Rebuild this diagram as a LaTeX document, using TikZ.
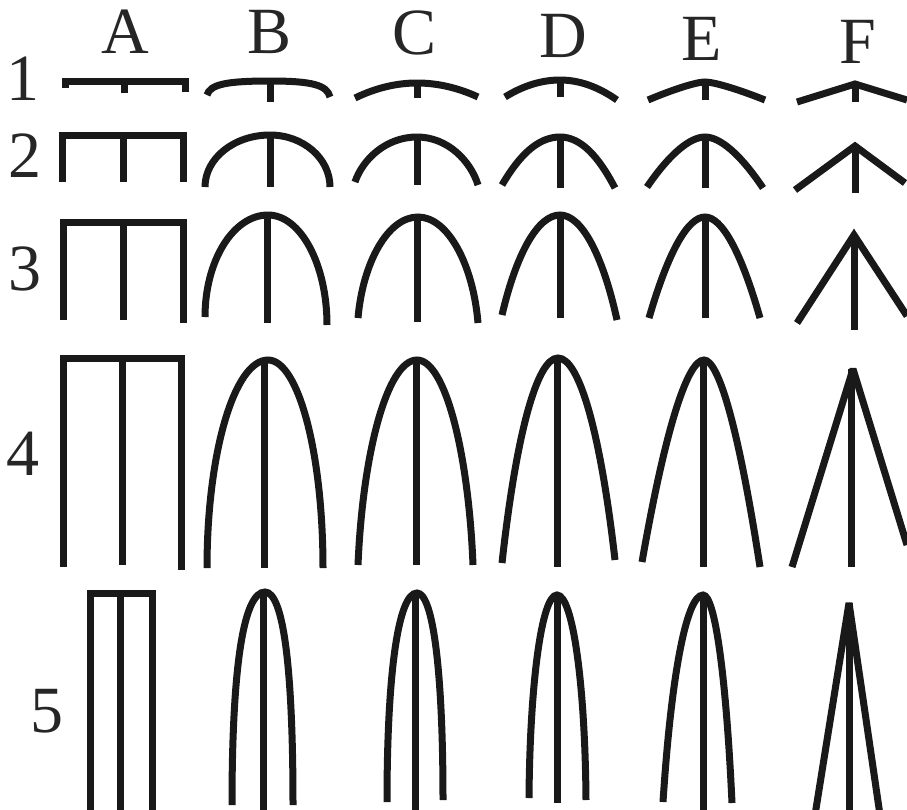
\documentclass[tikz,border=0pt]{standalone}
\usepackage{fontspec}
\setmainfont{Liberation Serif}
\newcommand{\arch}[9]{%
 \draw[ln] (#1,#2) .. controls ({#1+#7*(#3-#1)},{#2-#8*(#2-#4)}) and ({#3-#9*(#3-#1)},#4) .. (#3,#4)
   .. controls ({#3+#9*(#5-#3)},#4) and ({#5-#7*(#5-#3)},{#6-#8*(#6-#4)}) .. (#5,#6);}
\begin{document}
\begin{tikzpicture}[x=1pt,y=-1pt,
  ln/.style={line width=7pt,color=black!90,line cap=butt,line join=miter},
  lbl/.style={font=\fontsize{66}{66}\selectfont,inner sep=0pt,anchor=base,text=black!85}]
\useasboundingbox (0,0) rectangle (907,809);
\fill[white] (0,0) rectangle (907,809);
\clip (0,0) rectangle (907,809);
% labels
\node[lbl] (lA) at (125,53) {A};
\node[lbl] (lB) at (270,53) {B};
\node[lbl] (lC) at (415,54) {C};
\node[lbl] (lD) at (563,57) {D};
\node[lbl] (lE) at (702,60) {E};
\node[lbl] (lF) at (858,63) {F};
\node[lbl] (l1) at (23,100) {1};
\node[lbl] (l2) at (25,177) {2};
\node[lbl] (l3) at (25,290) {3};
\node[lbl] (l4) at (23,475) {4};
\node[lbl] (l5) at (47,732) {5};
% ---- row 1
\draw[ln] (65,88) -- (65,81) -- (185,81) -- (185,92);
\draw[ln] (124,81) -- (124,93);
\arch{207}{95}{270}{81}{330}{97}{0.05}{0.75}{0.7}
\draw[ln] (270,81) -- (270,102);
\arch{355}{98}{417}{83}{478}{97}{0.333}{0.667}{0.333}
\draw[ln] (417,83) -- (417,98);
\arch{505}{97}{560}{80}{617}{100}{0.333}{0.667}{0.333}
\draw[ln] (560,80) -- (560,97);
\arch{648}{100}{705}{82}{765}{100}{0.45}{0.6}{0.15}
\draw[ln] (705,82) -- (705,100);
\draw[ln] (797,102) -- (855,84) -- (907,100);
\draw[ln] (855,84) -- (855,102);
% ---- row 2
\draw[ln] (62,182) -- (62,135) -- (183,135) -- (183,182);
\draw[ln] (123,135) -- (123,182);
\arch{205}{187}{270}{135}{330}{187}{0}{0.552}{0.552}
\draw[ln] (270,135) -- (270,187);
\arch{355}{182}{417}{137}{478}{185}{0.12}{0.5}{0.5}
\draw[ln] (417,137) -- (417,185);
\arch{502}{185}{560}{137}{615}{188}{0.3}{0.62}{0.38}
\draw[ln] (560,137) -- (560,188);
\arch{647}{187}{705}{137}{763}{188}{0.4}{0.68}{0.25}
\draw[ln] (705,137) -- (705,188);
\draw[ln] (795,190) -- (855,146) -- (905,183);
\draw[ln] (855,146) -- (855,193);
% ---- row 3
\draw[ln] (63,320) -- (63,222) -- (183,222) -- (183,323);
\draw[ln] (123,222) -- (123,320);
\arch{205}{317}{268}{215}{327}{325}{0}{0.552}{0.552}
\draw[ln] (267,215) -- (267,323);
\arch{358}{318}{418}{217}{478}{323}{0.08}{0.55}{0.5}
\draw[ln] (417,217) -- (417,322);
\arch{502}{315}{560}{215}{617}{320}{0.25}{0.62}{0.38}
\draw[ln] (560,215) -- (560,318);
\arch{649}{318}{705}{217}{760}{318}{0.35}{0.67}{0.3}
\draw[ln] (705,217) -- (705,318);
\draw[ln] (797,323) -- (854,235) -- (907,316);
\draw[ln] (854,235) -- (854,330);
% ---- row 4
\draw[ln] (63,567) -- (63,358) -- (181,358) -- (181,570);
\draw[ln] (122,358) -- (122,565);
\arch{207}{568}{268}{360}{323}{568}{0}{0.552}{0.552}
\draw[ln] (264,360) -- (264,568);
\arch{358}{565}{417}{360}{473}{565}{0.08}{0.55}{0.5}
\draw[ln] (416,360) -- (416,565);
\arch{502}{563}{558}{358}{615}{560}{0.25}{0.62}{0.38}
\draw[ln] (557,358) -- (557,567);
\arch{642}{562}{704}{360}{760}{567}{0.4}{0.7}{0.25}
\draw[ln] (703,360) -- (703,567);
\draw[ln,line join=bevel] (792,567) -- (853,369) -- (907,545);
\draw[ln] (851,369) -- (851,567);
% ---- row 5
\draw[ln] (90,815) -- (90,593) -- (152,593) -- (152,815);
\draw[ln] (120,593) -- (120,815);
\arch{232}{805}{265}{592}{293}{805}{0}{0.65}{0.65}
\draw[ln] (263,592) -- (263,815);
\arch{387}{802}{417}{593}{443}{800}{0}{0.62}{0.62}
\draw[ln] (415,593) -- (415,815);
\arch{529}{798}{557}{595}{586}{800}{0.03}{0.56}{0.55}
\draw[ln] (557,595) -- (557,803);
\arch{663}{802}{703}{595}{732}{803}{0.2}{0.6}{0.42}
\draw[ln] (703,595) -- (703,815);
\draw[ln,line join=bevel] (815,815) -- (849,603) -- (880,815);
\draw[ln] (849,603) -- (849,815);
\end{tikzpicture}
\end{document}
